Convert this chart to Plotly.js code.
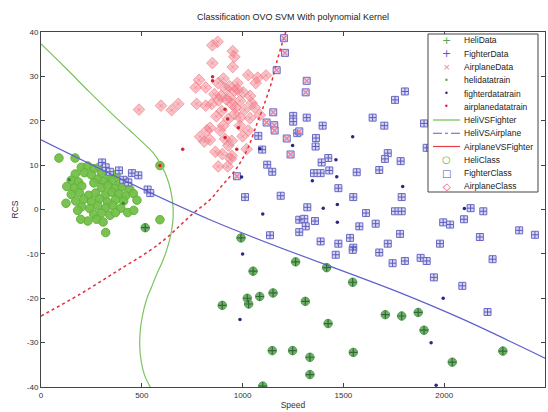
<!DOCTYPE html>
<html>
<head>
<meta charset="utf-8">
<script src="https://cdn.plot.ly/plotly-3.0.1.min.js"></script>
<style>html,body{margin:0;padding:0;background:#fff;}#chart{width:548px;height:412px;}</style>
</head>
<body>
<div id="chart"></div>
<script>
// ---------------- DATA ----------------
const chartTitle = 'Classification OVO SVM With polynomial Kernel';
const xLabel = 'Speed';
const yLabel = 'RCS';
const xTicks = [0, 500, 1000, 1500, 2000, 2500];
const yTicks = [-40, -30, -20, -10, 0, 10, 20, 30, 40];

// Heli class circles (dense cluster)
const heliClassSpeed = [200,232,262,290,318, 170,215,250,300,338,372, 150,186,282,312,352,392,420,262,
  128,166,202,300,332,366,402,440, 150,190,236,270,320,352,386,420,458,
  172,212,250,290,330,370,410,476, 202,242,282,322,356,396, 262,300,342, 232,276,
  89,169,124,182,197,321,430,460,590,369,308,590];
const heliClassRcs = [9.5,9.8,9.2,9.6,8.9, 8.0,8.3,7.8,8.2,7.4,7.9, 6.6,6.2,6.8,6.3,6.5,6.0,6.4,6.0,
  5.2,4.8,5.3,4.9,5.4,4.7,5.1,4.6, 3.4,3.8,3.2,3.7,3.3,3.9,3.5,3.1,3.6,
  1.9,2.3,1.8,2.4,1.7,2.2,1.9,2.1, 0.6,0.2,0.8,0.4,0.9,0.3, -1.1,-0.8,-1.3, -2.6,-2.2,
  11.6,11.6,1.4,-0.2,-2.2,-5.2,-0.7,-0.2,-2.3,-0.7,-2.8,9.9];

// Heli test data (+ inside circles)
const heliDataSpeed = [992,1263,1417,1546,1052,1151,1085,1023,1030,899,1311,1424,1708,1789,1871,1900,2040,2291,1147,1248,1334,1549,1334,1100,517];
const heliDataRcs = [-6.4,-11.8,-13.1,-16.4,-13.9,-18.8,-19.6,-20.0,-21.3,-21.6,-20.7,-25.7,-23.7,-24.0,-23.2,-27.2,-34.4,-31.9,-31.8,-31.8,-33.3,-32.2,-37.2,-39.8,-4.1];

const heliTrainSpeed = [140, 408];
const heliTrainRcs = [6.7, 1.4];

// Fighter test data (+ inside squares)
const fighterDataSpeed = [303,321,342,387,408,433,451,483,529,542,
  1251,1251,1318,1397,1645,1703,1805,1756,1271,1364,1362,1425,1392,1354,1387,1430,1566,1720,1706,1784,1678,
  1475,1549,1789,1189,1321,1281,1306,1313,1359,1281,1612,1579,1660,1756,1789,1781,1136,1387,1475,1533,1549,
  1720,1546,1462,1678,1744,1805,2131,2194,1995,2029,2098,2177,2372,2450,1979,1883,1913,2240,1949,2090,2215,
  1900,1913,1012,1122,1147,1078,1097];
const fighterDataRcs = [10.6,9.5,8.5,8.8,6.7,6.1,8.2,7.7,4.5,3.7,
  21.1,19.8,20.7,18.9,20.7,18.9,26.6,24.7,17.2,16.1,14.2,11.6,10.6,8.2,8.2,8.8,8.4,12.7,11.4,10.9,8.9,
  4.8,2.8,2.8,3.1,0.5,-2.3,-2.1,-3.8,-2.6,-5.1,-0.8,-3.8,-3.2,-0.4,-0.4,-5.5,-5.8,-7.2,-7.7,-6.4,-8.6,
  -7.7,-9.1,-10.2,-9.7,-12.1,-11.6,0.3,-0.4,-2.9,-3.4,-2.2,-6.2,-4.7,-5.7,-7.7,-10.9,-11.6,-11.2,-15.3,-17.2,-23.1,
  19.4,13.9,2.8,10.1,8.5,16.6,13.5];

// Airplane test data classified as Fighter (x inside squares)
const airplaneAsFighterSpeed = [1152,1119,1157,1159,1219,1281,1238,972,1313,1318,1169,1210,1205];
const airplaneAsFighterRcs = [21.9,19.6,19.0,17.8,16.0,17.6,12.4,7.5,26.4,29.0,31.4,35.3,38.6];

const fighterTrainSpeed = [1546,1248,1463,1346,1467,1794,1400,1470,1100,1470,2100,1995,1000,987,1935,1960,995,1085];
const fighterTrainRcs = [16.4,14.4,11.2,6.5,7.4,5.2,0.3,1.1,-1.0,-2.9,0.2,-20.0,-10.0,-24.8,-30.0,-39.6,7.3,13.7];

// Airplane test data (x inside diamonds)
const airplaneDataSpeed = [850,876,951,959,850,951,1028,1075,1116,1065,784,767,817,879,974,916,860,893,937,1003,
  1037,1045,987,946,896,847,772,817,681,648,595,987,1037,1086,929,904,987,1028,838,822,888,789,810,838,913,946,
  929,1020,946,941,879,926,486,905,935,960,920,965,880,1010,960,870,1060,1000,865,900,975];
const airplaneDataRcs = [37.0,37.8,35.7,34.4,33.0,32.1,30.3,29.7,30.2,28.5,29.2,27.5,27.5,28.5,28.5,27.2,26.0,25.6,25.2,26.4,
  25.6,24.0,24.5,23.8,22.2,23.8,23.8,23.4,23.8,22.4,23.4,20.7,20.6,21.3,20.4,18.9,18.9,17.8,18.4,17.8,17.8,16.4,15.3,15.7,15.9,15.5,
  14.4,13.6,12.1,11.4,9.7,9.7,22.5,29.5,27.8,26.8,24.8,23.0,24.6,22.5,21.5,21.0,23.0,16.5,13.0,12.5,27.0];

const airplaneTrainSpeed = [851,851,913,926,979,971,913,703,590];
const airplaneTrainRcs = [29.9,29.0,22.6,20.4,18.4,13.6,16.2,13.6,9.9];

// Decision boundaries
const heliVsFighterSpeed = [0,120,240,360,441,507,560,590,615,635,648,655,655,648,636,620,600,575,548,522,503,492,490,498,515,548];
const heliVsFighterRcs = [37.3,32.0,26.5,21.2,17.8,15.0,12.6,10.5,8.3,5.8,3.2,0.5,-2.0,-4.6,-7.2,-9.6,-12.0,-14.5,-17.5,-20.5,-24.0,-27.5,-31.0,-34.5,-37.5,-40.5];
const heliVsAirplaneSpeed = [0,838,1789,2086,2500];
const heliVsAirplaneRcs = [15.7,-2.3,-18.9,-24.6,-33.5];
const airplaneVsFighterSpeed = [0,193,377,541,625,754,838,898,972,1027,1071,1101,1141,1171,1200,1215];
const airplaneVsFighterRcs = [-24.0,-19.1,-13.9,-9.2,-6.3,-0.9,2.2,5.4,9.4,13.9,19.3,22.9,28.3,33.5,38.0,40.2];

const legendLabels = ['HeliData','FighterData','AirplaneData','helidatatrain','fighterdatatrain','airplanedatatrain',
  'HeliVSFighter','HeliVSAirplane','AirplaneVSFighter','HeliClass','FighterClass','AirplaneClass'];

// ---------------- STYLE ----------------
const FONT = 'Liberation Sans, Arial, Helvetica, sans-serif';

const traces = [];
// Class markers (filled) first
traces.push({x: heliClassSpeed, y: heliClassRcs, type:'scatter', mode:'markers', name:'HeliClass',
  marker:{symbol:'circle', size:8.5, color:'rgba(115,192,72,0.95)', line:{color:'rgb(100,178,62)', width:1}}});
traces.push({x: heliDataSpeed, y: heliDataRcs, type:'scatter', mode:'markers', name:'HeliClass ',
  marker:{symbol:'circle', size:8.5, color:'rgb(110,178,100)', line:{color:'rgb(95,160,90)', width:1}}});
traces.push({x: fighterDataSpeed.concat(airplaneAsFighterSpeed), y: fighterDataRcs.concat(airplaneAsFighterRcs), type:'scatter', mode:'markers', name:'FighterClass',
  marker:{symbol:'square', size:7, color:'rgb(215,215,242)', line:{color:'rgb(105,105,200)', width:1}}});
traces.push({x: airplaneDataSpeed, y: airplaneDataRcs, type:'scatter', mode:'markers', name:'AirplaneClass',
  marker:{symbol:'diamond', size:9, color:'rgba(244,130,142,0.5)', line:{color:'rgba(238,118,130,0.6)', width:1}}});
// Boundaries
traces.push({x: heliVsFighterSpeed, y: heliVsFighterRcs, type:'scatter', mode:'lines', name:'HeliVSFighter',
  line:{color:'rgb(125,195,95)', width:1.2, shape:'spline'}});
traces.push({x: heliVsAirplaneSpeed, y: heliVsAirplaneRcs, type:'scatter', mode:'lines', name:'HeliVSAirplane',
  line:{color:'rgb(95,95,205)', width:1.2, shape:'spline'}});
traces.push({x: airplaneVsFighterSpeed, y: airplaneVsFighterRcs, type:'scatter', mode:'lines', name:'AirplaneVSFighter',
  line:{color:'rgb(230,45,60)', width:1.5, dash:'dot', shape:'spline'}});
// Test data symbols
traces.push({x: heliDataSpeed, y: heliDataRcs, type:'scatter', mode:'markers', name:'HeliData',
  marker:{symbol:'cross-thin-open', size:6, color:'rgb(50,105,60)', line:{color:'rgb(50,105,60)', width:1.2}}});
traces.push({x: fighterDataSpeed, y: fighterDataRcs, type:'scatter', mode:'markers', name:'FighterData',
  marker:{symbol:'cross-thin-open', size:5, color:'rgb(90,90,190)', line:{color:'rgb(90,90,190)', width:1}}});
traces.push({x: airplaneAsFighterSpeed, y: airplaneAsFighterRcs, type:'scatter', mode:'markers', name:'AirplaneData',
  marker:{symbol:'x-thin-open', size:5, color:'rgb(238,125,145)', line:{color:'rgb(238,125,145)', width:1.2}}});
traces.push({x: airplaneDataSpeed, y: airplaneDataRcs, type:'scatter', mode:'markers', name:'AirplaneData ',
  marker:{symbol:'x-thin-open', size:3.5, color:'rgba(235,100,115,0.45)', line:{color:'rgba(235,100,115,0.45)', width:1}}});
// Training dots
traces.push({x: heliTrainSpeed, y: heliTrainRcs, type:'scatter', mode:'markers', name:'helidatatrain',
  marker:{symbol:'circle', size:3.5, color:'rgb(55,140,55)'}});
traces.push({x: fighterTrainSpeed, y: fighterTrainRcs, type:'scatter', mode:'markers', name:'fighterdatatrain',
  marker:{symbol:'circle', size:3.5, color:'rgb(40,40,130)'}});
traces.push({x: airplaneTrainSpeed, y: airplaneTrainRcs, type:'scatter', mode:'markers', name:'airplanedatatrain',
  marker:{symbol:'circle', size:3.5, color:'rgb(215,35,50)'}});

// ---------------- CUSTOM LEGEND (MATLAB style, compact) ----------------
const L = 41, T = 32, W = 504, H = 355;
const px2x = p => (p - L) / W;
const py2y = p => (T + H - p) / H;
const legTop = 34, legBottom = 192, legLeft = 428, legRight = 538;
const rowY = i => 40.5 + i * 13.25;
const legendGlyphs = [
  {t:'+', c:'rgb(80,170,80)', s:11}, {t:'+', c:'rgb(90,90,190)', s:11}, {t:'×', c:'rgb(240,130,150)', s:9},
  {t:'•', c:'rgb(100,170,60)', s:8}, {t:'•', c:'rgb(40,40,130)', s:8}, {t:'•', c:'rgb(215,35,50)', s:8},
  null, null, null,
  {t:'○', c:'rgb(90,180,60)', s:10}, {t:'□', c:'rgb(80,80,190)', s:10}, {t:'◇', c:'rgb(230,70,85)', s:10}
];
const legendLines = {6:{c:'rgb(110,190,80)', d:'solid'}, 7:{c:'rgb(100,90,200)', d:'dashdot'}, 8:{c:'rgb(235,60,70)', d:'solid'}};

const shapes = [{type:'rect', xref:'paper', yref:'paper', x0:px2x(legLeft), x1:px2x(legRight), y0:py2y(legBottom), y1:py2y(legTop),
  fillcolor:'#ffffff', line:{color:'#444', width:1}, layer:'above'}];
const annotations = [];
legendLabels.forEach((lab, i) => {
  const y = py2y(rowY(i));
  annotations.push({xref:'paper', yref:'paper', x:px2x(462), y:y, xanchor:'left', yanchor:'middle', text:lab, showarrow:false,
    font:{family:FONT, size:8.5, color:'#222'}});
  if (legendGlyphs[i]) {
    const g = legendGlyphs[i];
    annotations.push({xref:'paper', yref:'paper', x:px2x(446.5), y:y, xanchor:'center', yanchor:'middle', text:g.t, showarrow:false,
      font:{family:'DejaVu Sans, sans-serif', size:g.s, color:g.c}});
  } else {
    const ls = legendLines[i];
    shapes.push({type:'line', xref:'paper', yref:'paper', x0:px2x(433), x1:px2x(460), y0:y, y1:y, layer:'above',
      line:{color:ls.c, width:1.2, dash:ls.d}});
  }
});

const axisCommon = {showgrid:false, zeroline:false, showline:true, linecolor:'#444', linewidth:1, mirror:'ticks',
  ticks:'inside', ticklen:4, tickcolor:'#444', tickfont:{family:FONT, size:8, color:'#333'}};

const layout = {
  width:548, height:412,
  margin:{l:L, r:548 - L - W, t:T, b:412 - T - H, pad:0},
  paper_bgcolor:'#fff', plot_bgcolor:'#fff',
  showlegend:false,
  title:{text:chartTitle, font:{family:FONT, size:9, color:'#222'}, x:0.5, xref:'paper', xanchor:'center', y:1 - 17/412, yanchor:'middle'},
  xaxis:Object.assign({}, axisCommon, {range:[0,2500], tickvals:xTicks, ticktext:xTicks.map(String),
    title:{text:xLabel, font:{family:FONT, size:8.5, color:'#333'}, standoff:3}}),
  yaxis:Object.assign({}, axisCommon, {range:[-40,40], tickvals:yTicks, ticktext:yTicks.map(String),
    title:{text:yLabel, font:{family:FONT, size:8.5, color:'#333'}, standoff:6}}),
  shapes:shapes,
  annotations:annotations
};

Plotly.newPlot('chart', traces, layout, {displayModeBar:false, staticPlot:true});
</script>
</body>
</html>
